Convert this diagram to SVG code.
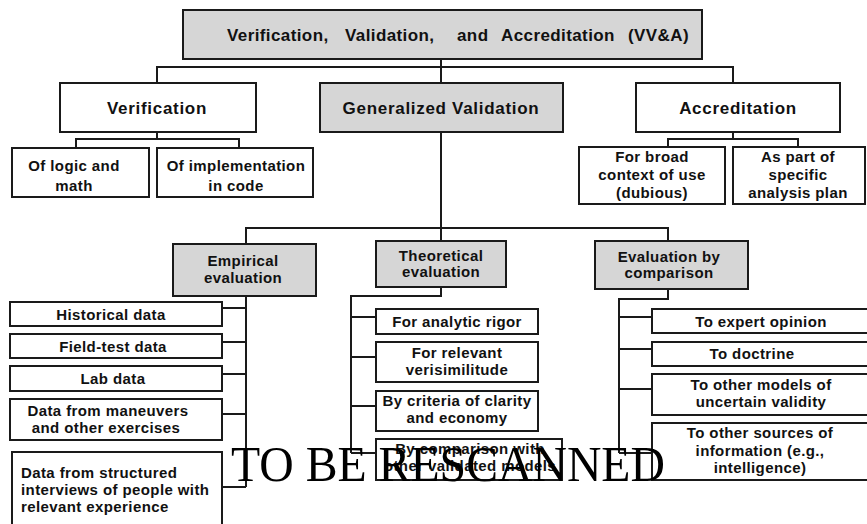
<svg xmlns="http://www.w3.org/2000/svg" width="867" height="524" viewBox="0 0 867 524">
  <style>
    .box { fill: #ffffff; stroke: #1a1a1a; stroke-width: 2; }
    .grey { fill: #d6d6d6; stroke: #1a1a1a; stroke-width: 2; }
    .wire { fill: none; stroke: #1a1a1a; stroke-width: 2; }
    text { font-family: "Liberation Sans", Arial, sans-serif; font-weight: bold; fill: #111111; }
    .h1 { font-size: 17px; letter-spacing: 0.4px; }
    .h2 { font-size: 17px; letter-spacing: 0.7px; text-anchor: middle; }
    .t { font-size: 15px; letter-spacing: 0.4px; text-anchor: middle; }
    .tl { font-size: 15px; letter-spacing: 0.4px; }
    .stamp { font-family: "Liberation Serif", "Times New Roman", serif; font-weight: normal; font-size: 50px; fill: #000000; }
  </style>

  <!-- connectors -->
  <g id="connectors">
    <!-- VV&A to its three branches -->
    <path class="wire" d="M441 59 V132 M157 83 V67 H733 V83"/>
    <!-- Verification children -->
    <path class="wire" d="M157 132 V139 M76 148 V139 H239 V148"/>
    <!-- Accreditation children -->
    <path class="wire" d="M733 132 V139 M668 148 V139 H798 V148"/>
    <!-- Generalized Validation to the three evaluations -->
    <path class="wire" d="M441 132 V241 M246 244 V228 H668 V241"/>
    <!-- Empirical evaluation trunk -->
    <path class="wire" d="M246 296 V487 M246 308 H222 M246 342 H222 M246 374 H222 M246 414 H222 M246 487 H222"/>
    <!-- Theoretical evaluation trunk -->
    <path class="wire" d="M441 287 V296 H351 V453 M351 317 H376 M351 357 H376 M351 406 H376 M351 453 H376"/>
    <!-- Evaluation by comparison trunk -->
    <path class="wire" d="M668 289 V299 H619 V453 M619 317 H652 M619 349 H652 M619 389 H652 M619 453 H652"/>
  </g>

  <!-- top level -->
  <g id="vva">
    <rect class="grey" x="183" y="10" width="519" height="49"/>
    <text class="h1" y="41"><tspan x="227">Verification,</tspan><tspan x="345">Validation,</tspan><tspan x="457">and</tspan><tspan x="501">Accreditation</tspan><tspan x="628">(VV&amp;A)</tspan></text>
  </g>

  <!-- second level -->
  <g id="verification">
    <rect class="box" x="60" y="83" width="196" height="49"/>
    <text class="h2" x="157" y="114">Verification</text>
  </g>
  <g id="generalized-validation">
    <rect class="grey" x="320" y="83" width="243" height="49"/>
    <text class="h2" x="441" y="114">Generalized Validation</text>
  </g>
  <g id="accreditation">
    <rect class="box" x="636" y="83" width="204" height="49"/>
    <text class="h2" x="738" y="114">Accreditation</text>
  </g>

  <!-- verification leaves -->
  <g id="logic-math">
    <rect class="box" x="12" y="148" width="137" height="49"/>
    <text class="t" x="74" y="170.5">Of logic and</text>
    <text class="t" x="74" y="190.5">math</text>
  </g>
  <g id="implementation">
    <rect class="box" x="157" y="148" width="156" height="49"/>
    <text class="t" x="236" y="170.5">Of implementation</text>
    <text class="t" x="236" y="190.5">in code</text>
  </g>

  <!-- accreditation leaves -->
  <g id="broad-context">
    <rect class="box" x="579" y="147" width="146" height="57"/>
    <text class="t" x="652" y="162">For broad</text>
    <text class="t" x="652" y="180">context of use</text>
    <text class="t" x="652" y="198">(dubious)</text>
  </g>
  <g id="analysis-plan">
    <rect class="box" x="733" y="147" width="132" height="57"/>
    <text class="t" x="798" y="162">As part of</text>
    <text class="t" x="798" y="180">specific</text>
    <text class="t" x="798" y="198">analysis plan</text>
  </g>

  <!-- evaluation kinds -->
  <g id="empirical">
    <rect class="grey" x="173" y="244" width="143" height="52"/>
    <text class="t" x="243" y="266">Empirical</text>
    <text class="t" x="243" y="283">evaluation</text>
  </g>
  <g id="theoretical">
    <rect class="grey" x="376" y="241" width="130" height="46"/>
    <text class="t" x="441" y="261">Theoretical</text>
    <text class="t" x="441" y="277">evaluation</text>
  </g>
  <g id="comparison">
    <rect class="grey" x="595" y="241" width="153" height="48"/>
    <text class="t" x="669" y="262">Evaluation by</text>
    <text class="t" x="669" y="278">comparison</text>
  </g>

  <!-- empirical leaves -->
  <g id="historical">
    <rect class="box" x="10" y="302" width="212" height="24"/>
    <text class="t" x="111" y="319.5">Historical data</text>
  </g>
  <g id="field-test">
    <rect class="box" x="10" y="334" width="212" height="24"/>
    <text class="t" x="113" y="351.5">Field-test data</text>
  </g>
  <g id="lab">
    <rect class="box" x="10" y="366" width="212" height="25"/>
    <text class="t" x="113" y="384">Lab data</text>
  </g>
  <g id="maneuvers">
    <rect class="box" x="10" y="399" width="212" height="41"/>
    <text class="t" x="108" y="416">Data from maneuvers</text>
    <text class="t" x="106" y="433">and other exercises</text>
  </g>
  <g id="interviews">
    <rect class="box" x="12" y="452" width="210" height="80"/>
    <text class="tl" x="21" y="478">Data from structured</text>
    <text class="tl" x="21" y="495">interviews of people with</text>
    <text class="tl" x="21" y="512">relevant experience</text>
  </g>

  <!-- theoretical leaves -->
  <g id="analytic-rigor">
    <rect class="box" x="376" y="309" width="162" height="25"/>
    <text class="t" x="457" y="327">For analytic rigor</text>
  </g>
  <g id="verisimilitude">
    <rect class="box" x="376" y="342" width="162" height="40"/>
    <text class="t" x="457" y="358">For relevant</text>
    <text class="t" x="457" y="375">verisimilitude</text>
  </g>
  <g id="clarity">
    <rect class="box" x="376" y="391" width="162" height="40"/>
    <text class="t" x="457" y="406">By criteria of clarity</text>
    <text class="t" x="457" y="423">and economy</text>
  </g>
  <g id="validated-models">
    <rect class="box" x="376" y="439" width="186" height="41"/>
    <text class="t" x="470" y="454">By comparison with</text>
    <text class="t" x="470" y="471">other validated models</text>
  </g>

  <!-- comparison leaves -->
  <g id="expert-opinion">
    <rect class="box" x="652" y="309" width="218" height="24"/>
    <text class="t" x="761" y="327">To expert opinion</text>
  </g>
  <g id="doctrine">
    <rect class="box" x="652" y="342" width="218" height="24"/>
    <text class="t" x="752" y="359">To doctrine</text>
  </g>
  <g id="other-models">
    <rect class="box" x="652" y="374" width="218" height="41"/>
    <text class="t" x="761" y="390">To other models of</text>
    <text class="t" x="761" y="407">uncertain validity</text>
  </g>
  <g id="other-sources">
    <rect class="box" x="652" y="423" width="218" height="57"/>
    <text class="t" x="760" y="438">To other sources of</text>
    <text class="t" x="760" y="456">information (e.g.,</text>
    <text class="t" x="760" y="473">intelligence)</text>
  </g>

  <!-- stamp across the lower part -->
  <text class="stamp" x="231" y="481" textLength="434" lengthAdjust="spacingAndGlyphs">TO BE RESCANNED</text>
</svg>
